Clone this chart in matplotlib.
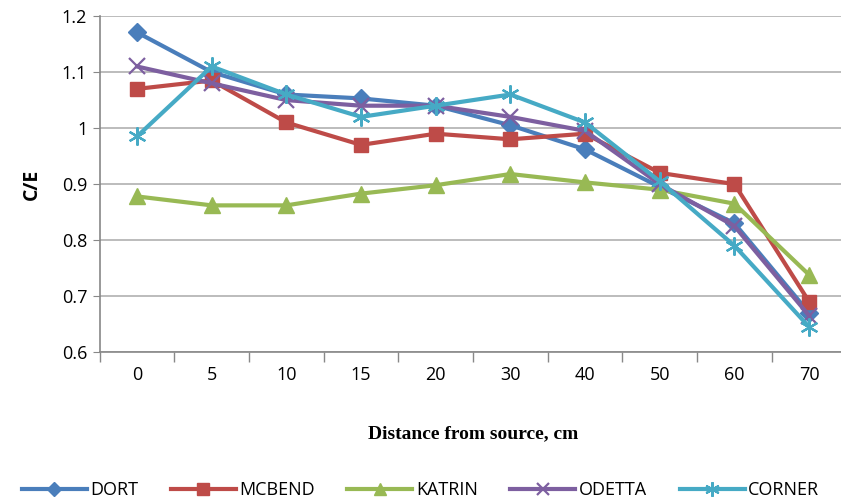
import matplotlib
matplotlib.use("Agg")
import matplotlib.pyplot as plt
import numpy as np

categories = ["0", "5", "10", "15", "20", "30", "40", "50", "60", "70"]
dort   = [1.171, 1.100, 1.060, 1.053, 1.040, 1.005, 0.962, 0.895, 0.830, 0.670]
mcbend = [1.070, 1.085, 1.010, 0.970, 0.990, 0.980, 0.990, 0.920, 0.900, 0.690]
katrin = [0.878, 0.862, 0.862, 0.883, 0.898, 0.918, 0.903, 0.890, 0.865, 0.738]
odetta = [1.110, 1.080, 1.050, 1.040, 1.040, 1.020, 0.995, 0.900, 0.825, 0.665]
corner = [0.985, 1.110, 1.060, 1.020, 1.040, 1.060, 1.010, 0.905, 0.790, 0.645]

series = [
    ("DORT", dort, "#4A7EBB", "D", 9),
    ("MCBEND", mcbend, "#BE4B48", "s", 10),
    ("KATRIN", katrin, "#98B954", "^", 11),
    ("ODETTA", odetta, "#7D5FA0", "x", 11),
    ("CORNER", corner, "#46AAC5", (6, 2, 0), 13),
]

fig = plt.figure(figsize=(8.41, 5.03), dpi=100)
ax = fig.add_axes([0.1185, 0.300, 0.888, 0.668])
x = np.arange(len(categories))
for name, vals, col, mk, ms in series:
    kw = dict(markeredgewidth=1.6) if mk in ("x", (6, 2, 0)) else dict(markeredgecolor=col)
    ax.plot(x, vals, color=col, lw=3, marker=mk, markersize=ms, label=name, **kw)

ax.set_xlim(-0.5, len(categories) - 0.5)
ax.set_ylim(0.6, 1.2)
ax.set_yticks(np.arange(0.6, 1.21, 0.1))
ax.set_yticklabels(["0.6", "0.7", "0.8", "0.9", "1", "1.1", "1.2"])
ax.set_xticks(x)
ax.set_xticklabels(categories)
ax.set_xticks(np.arange(-0.5, len(categories), 1), minor=True)
ax.tick_params(axis="x", which="major", length=0, pad=10, labelsize=13)
ax.tick_params(axis="x", which="minor", length=7, color="#888888", width=1)
ax.tick_params(axis="y", length=5, color="#888888", labelsize=13, pad=4)
for lab in ax.get_xticklabels() + ax.get_yticklabels():
    lab.set_family("Open Sans")
ax.grid(axis="y", color="#B0B0B0", lw=1.2)
ax.set_axisbelow(True)
for s in ["top", "right"]:
    ax.spines[s].set_visible(False)
for s in ["left", "bottom"]:
    ax.spines[s].set_color("#888888")
    ax.spines[s].set_linewidth(1.2)

ax.set_ylabel("C/E", fontsize=14, fontweight="bold", family="Open Sans", labelpad=14)
ax.set_xlabel("Distance from source, cm", fontsize=14, fontweight="bold",
              family="Liberation Serif", labelpad=30)

leg = fig.legend(loc="lower center", bbox_to_anchor=(0.5, -0.025), ncol=5, frameon=False,
                 prop={"family": "Open Sans", "size": 13}, handlelength=3.6,
                 columnspacing=1.8, handletextpad=0.2, markerscale=0.8)
fig.savefig("out.png", dpi=100)
